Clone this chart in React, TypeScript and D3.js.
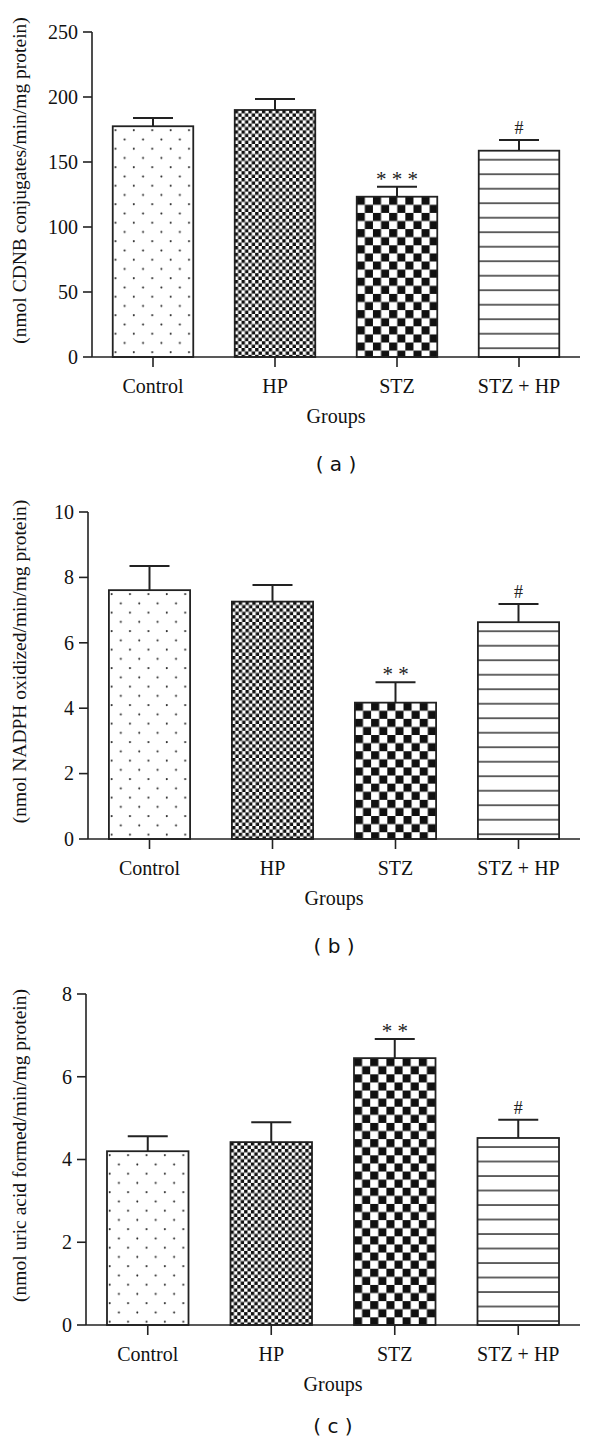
import React from "react";
import * as d3 from "d3";

const categories = ["Control", "HP", "STZ", "STZ + HP"];

const gstMeans = [177.5, 190, 123.3, 158.7];
const gstSem = [6.3, 8.5, 7.7, 8.3];
const gstSig = ["", "", "* * *", "#"];
const gstTicks = [0, 50, 100, 150, 200, 250];

const nqoMeans = [7.61, 7.26, 4.17, 6.63];
const nqoSem = [0.74, 0.51, 0.62, 0.56];
const nqoSig = ["", "", "* *", "#"];
const nqoTicks = [0, 2, 4, 6, 8, 10];

const xoMeans = [4.2, 4.42, 6.45, 4.52];
const xoSem = [0.36, 0.48, 0.46, 0.44];
const xoSig = ["", "", "* *", "#"];
const xoTicks = [0, 2, 4, 6, 8];

const patternKinds = ["dots", "fine", "coarse", "hlines"];

const SERIF = "'Liberation Serif', 'Times New Roman', serif";
const SANS = "'DejaVu Sans', sans-serif";

type PanelProps = {
  id: string;
  label: string;
  title: string;
  means: number[];
  sem: number[];
  sig: string[];
  ticks: number[];
  axisX: number;
  top: number;
  bottom: number;
  labelY: number;
};

function Pattern({ id, kind, x, y }: { id: string; kind: string; x: number; y: number }) {
  if (kind === "dots") {
    const w = 18.4, h = 18.5;
    return (
      <pattern id={id} patternUnits="userSpaceOnUse" x={x} y={y} width={w} height={h}>
        <rect width={w} height={h} fill="#fff" />
        <circle cx={2.7} cy={4} r={1} fill="#222" />
        <circle cx={11.9} cy={13.25} r={1} fill="#222" />
      </pattern>
    );
  }
  if (kind === "fine" || kind === "coarse") {
    const c = kind === "fine" ? 3.4 : 8.1;
    return (
      <pattern id={id} patternUnits="userSpaceOnUse" x={x} y={y} width={2 * c} height={2 * c}>
        <rect width={2 * c} height={2 * c} fill="#fff" />
        <rect x={0} y={0} width={c} height={c} fill="#111" />
        <rect x={c} y={c} width={c} height={c} fill="#111" />
      </pattern>
    );
  }
  const h = 14.5;
  return (
    <pattern id={id} patternUnits="userSpaceOnUse" x={x} y={y + 9} width={10} height={h}>
      <rect width={10} height={h} fill="#fff" />
      <rect x={0} y={-0.7} width={10} height={1.5} fill="#333" />
      <rect x={0} y={h - 0.7} width={10} height={1.5} fill="#333" />
    </pattern>
  );
}

function Panel(p: PanelProps) {
  const xEnd = 580;
  const maxT = p.ticks[p.ticks.length - 1];
  const y = d3.scaleLinear().domain([0, maxT]).range([p.bottom, p.top]);
  const x = d3
    .scaleBand<string>()
    .domain(categories)
    .range([p.axisX, xEnd])
    .paddingInner(0.34)
    .paddingOuter(0.17);
  const bw = x.bandwidth();
  const capW = 40;
  const stroke = "#222";
  return (
    <g>
      <defs>
        {categories.map((c, i) => (
          <Pattern
            key={c}
            id={`${p.id}-pat-${i}`}
            kind={patternKinds[i]}
            x={x(c)!}
            y={y(p.means[i])}
          />
        ))}
      </defs>
      {categories.map((c, i) => {
        const bx = x(c)!;
        const cx = bx + bw / 2;
        const yt = y(p.means[i]);
        const ye = y(p.means[i] + p.sem[i]);
        return (
          <g key={c}>
            <line x1={cx} x2={cx} y1={yt} y2={ye} stroke={stroke} strokeWidth={2} />
            <line x1={cx - capW / 2} x2={cx + capW / 2} y1={ye} y2={ye} stroke={stroke} strokeWidth={2} />
            <rect
              x={bx}
              y={yt}
              width={bw}
              height={p.bottom - yt}
              fill={`url(#${p.id}-pat-${i})`}
              stroke={stroke}
              strokeWidth={1.8}
            />
            {p.sig[i] ? (
              <text
                x={cx}
                y={p.sig[i] === "#" ? ye - 6 : ye - 1}
                textAnchor="middle"
                fontFamily={SERIF}
                fontSize={p.sig[i] === "#" ? 18 : 21}
                fill="#222"
              >
                {p.sig[i]}
              </text>
            ) : null}
          </g>
        );
      })}
      {/* y axis */}
      <line x1={p.axisX} x2={p.axisX} y1={p.top} y2={p.bottom} stroke={stroke} strokeWidth={1.6} />
      {p.ticks.map((t) => (
        <g key={t}>
          <line x1={p.axisX - 9} x2={p.axisX} y1={y(t)} y2={y(t)} stroke={stroke} strokeWidth={1.6} />
          <text
            x={p.axisX - 14}
            y={y(t)}
            dy="0.34em"
            textAnchor="end"
            fontFamily={SERIF}
            fontSize={20}
            fill="#111"
          >
            {t}
          </text>
        </g>
      ))}
      {/* x axis */}
      <line x1={p.axisX} x2={xEnd} y1={p.bottom} y2={p.bottom} stroke={stroke} strokeWidth={1.6} />
      {categories.map((c) => {
        const cx = x(c)! + bw / 2;
        return (
          <g key={c}>
            <line x1={cx} x2={cx} y1={p.bottom} y2={p.bottom + 10} stroke={stroke} strokeWidth={1.6} />
            <text
              x={cx}
              y={p.bottom + 36}
              textAnchor="middle"
              fontFamily={SERIF}
              fontSize={20}
              fill="#111"
            >
              {c}
            </text>
          </g>
        );
      })}
      <text
        x={(p.axisX + xEnd) / 2}
        y={p.bottom + 66}
        textAnchor="middle"
        fontFamily={SERIF}
        fontSize={20}
        fill="#111"
      >
        Groups
      </text>
      <text
        transform={`translate(26, ${(p.top + p.bottom) / 2 - 14}) rotate(-90)`}
        textAnchor="middle"
        fontFamily={SERIF}
        fontSize={19.5}
        fill="#111"
      >
        {p.title}
      </text>
      <text
        x={(p.axisX + xEnd) / 2}
        y={p.labelY}
        textAnchor="middle"
        fontFamily={SANS}
        fontSize={20}
        fill="#111"
      >
        {`( ${p.label} )`}
      </text>
    </g>
  );
}

export default function App() {
  return (
    <svg
      width={600}
      height={1444}
      viewBox="0 0 600 1444"
      style={{ position: "absolute", left: 0, top: 0, background: "#fff" }}
    >
      <rect width={600} height={1444} fill="#fff" />
      <Panel
        id="a"
        label="a"
        title="(nmol CDNB conjugates/min/mg protein)"
        means={gstMeans}
        sem={gstSem}
        sig={gstSig}
        ticks={gstTicks}
        axisX={92}
        top={32}
        bottom={357}
        labelY={471}
      />
      <Panel
        id="b"
        label="b"
        title="(nmol NADPH oxidized/min/mg protein)"
        means={nqoMeans}
        sem={nqoSem}
        sig={nqoSig}
        ticks={nqoTicks}
        axisX={88}
        top={512}
        bottom={839}
        labelY={953}
      />
      <Panel
        id="c"
        label="c"
        title="(nmol uric acid formed/min/mg protein)"
        means={xoMeans}
        sem={xoSem}
        sig={xoSig}
        ticks={xoTicks}
        axisX={86}
        top={994}
        bottom={1325}
        labelY={1433}
      />
    </svg>
  );
}
